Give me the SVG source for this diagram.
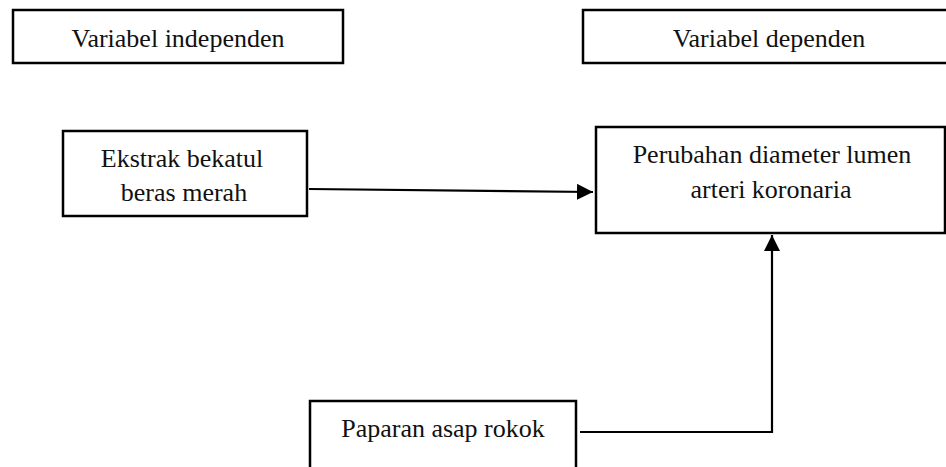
<svg xmlns="http://www.w3.org/2000/svg" width="946" height="467" viewBox="0 0 946 467">
<style>
.box{fill:#fff;stroke:#000;stroke-width:2.5}
.t{font-family:"Liberation Serif","Times New Roman",serif;font-size:26px;fill:#111;text-anchor:middle}
.c{fill:none;stroke:#000;stroke-width:2.2}
</style>
<defs>
<marker id="ah" markerUnits="userSpaceOnUse" markerWidth="16" markerHeight="16" viewBox="0 0 16 16" refX="16" refY="8" orient="auto">
<path d="M0,0 L16,8 L0,16 Z" fill="#000"/>
</marker>
</defs>
<rect width="946" height="467" fill="#fff"/>
<g id="label-independen">
<rect class="box" x="13" y="10" width="330" height="53"/>
<text class="t" x="178" y="47">Variabel independen</text>
</g>
<g id="label-dependen">
<rect class="box" x="583" y="10" width="380" height="53"/>
<text class="t" x="769" y="47">Variabel dependen</text>
</g>
<g id="ekstrak">
<rect class="box" x="63" y="131" width="244" height="85"/>
<text class="t" x="182" y="167">Ekstrak bekatul</text>
<text class="t" x="184" y="201">beras merah</text>
</g>
<g id="perubahan">
<rect class="box" x="596" y="127" width="349" height="106"/>
<text class="t" x="772" y="163">Perubahan diameter lumen</text>
<text class="t" x="771" y="198">arteri koronaria</text>
</g>
<g id="paparan">
<rect class="box" x="310" y="401" width="266" height="80"/>
<text class="t" x="443" y="437">Paparan asap rokok</text>
</g>
<g id="connectors">
<path class="c" d="M309,189 L593,192" marker-end="url(#ah)"/>
<path class="c" d="M580,432 L772,432 L772,235" marker-end="url(#ah)"/>
</g>
</svg>
